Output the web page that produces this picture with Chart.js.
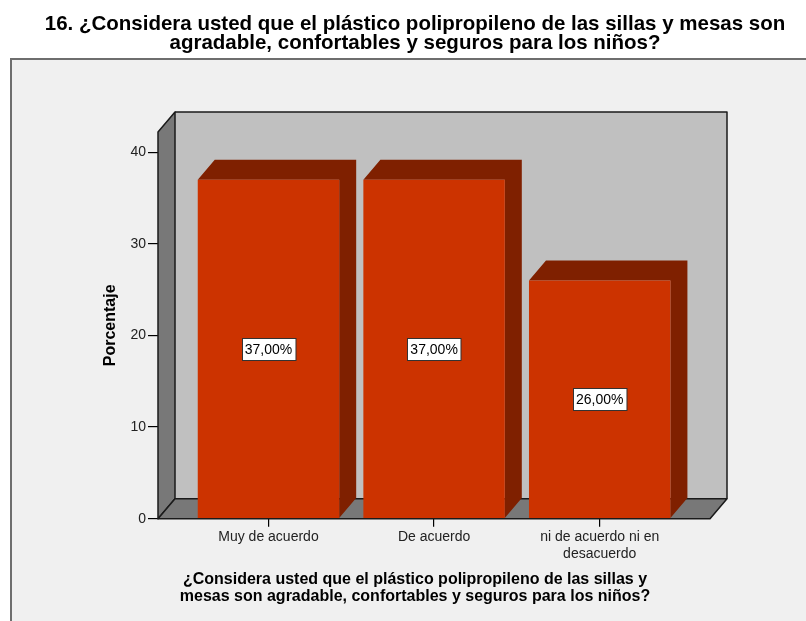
<!DOCTYPE html>
<html>
<head>
<meta charset="utf-8">
<script src="https://cdn.jsdelivr.net/npm/chart.js@4"></script>
<style>
  html, body { margin: 0; padding: 0; background: #ffffff; }
  #chart { display: block; }
</style>
</head>
<body>
<canvas id="chart" width="806" height="621"></canvas>
<script>
const categories = ["Muy de acuerdo", "De acuerdo", "ni de acuerdo ni en desacuerdo"];
const tickLabels = [["Muy de acuerdo"], ["De acuerdo"], ["ni de acuerdo ni en", "desacuerdo"]];
const percents = [37, 37, 26];
const yTicks = [0, 10, 20, 30, 40];

const mainTitle = [
  "16. ¿Considera usted que el plástico polipropileno de las sillas y mesas son",
  "agradable, confortables y seguros para los niños?",
];
const axisTitle = [
  "¿Considera usted que el plástico polipropileno de las sillas y",
  "mesas son agradable, confortables y seguros para los niños?",
];

// depth of the fake 3d box
const DX = 17;
const DY = 20;

const FONT = "Arial, 'Liberation Sans', sans-serif";

const box3d = {
  id: "box3d",
  beforeDraw(chart) {
    const ctx = chart.ctx;
    ctx.save();
    ctx.fillStyle = "#ffffff";
    ctx.fillRect(0, 0, chart.width, chart.height);
    // grey frame around the plot
    ctx.fillStyle = "#f0f0f0";
    ctx.fillRect(10, 58, chart.width, chart.height);
    ctx.strokeStyle = "#6e6e6e";
    ctx.lineWidth = 2;
    ctx.beginPath();
    ctx.moveTo(11, chart.height + 2);
    ctx.lineTo(11, 59);
    ctx.lineTo(chart.width + 2, 59);
    ctx.stroke();

    ctx.fillStyle = "#000000";
    ctx.textAlign = "center";
    ctx.textBaseline = "alphabetic";
    ctx.font = "bold 20.5px " + FONT;
    ctx.fillText(mainTitle[0], 415, 30);
    ctx.fillText(mainTitle[1], 415, 49);
    ctx.font = "bold 16px " + FONT;
    ctx.fillText(axisTitle[0], 415, 584);
    ctx.fillText(axisTitle[1], 415, 601);
    ctx.restore();
  },
  beforeDatasetsDraw(chart) {
    const ctx = chart.ctx;
    const { left: L, right: R, top: T, bottom: B } = chart.chartArea;
    ctx.save();
    ctx.lineWidth = 1.5;
    ctx.strokeStyle = "#1a1a1a";
    ctx.lineJoin = "round";

    // back wall
    ctx.fillStyle = "#c0c0c0";
    ctx.fillRect(L + DX, T - DY, R - L, B - T);
    ctx.beginPath();
    ctx.moveTo(L + DX, T - DY);
    ctx.lineTo(R + DX, T - DY);
    ctx.lineTo(R + DX, B - DY);
    ctx.stroke();

    // left wall
    ctx.fillStyle = "#787878";
    ctx.beginPath();
    ctx.moveTo(L, B);
    ctx.lineTo(L, T);
    ctx.lineTo(L + DX, T - DY);
    ctx.lineTo(L + DX, B - DY);
    ctx.closePath();
    ctx.fill();
    ctx.stroke();

    // floor
    ctx.beginPath();
    ctx.moveTo(L, B);
    ctx.lineTo(L + DX, B - DY);
    ctx.lineTo(R + DX, B - DY);
    ctx.lineTo(R, B);
    ctx.closePath();
    ctx.fill();
    ctx.stroke();

    // top and side faces of the bars
    ctx.fillStyle = "#7f2000";
    chart.getDatasetMeta(0).data.forEach((bar) => {
      const { x, y, base, width } = bar.getProps(["x", "y", "base", "width"], true);
      const x0 = x - width / 2;
      const x1 = x + width / 2;
      ctx.beginPath();
      ctx.moveTo(x0, y);
      ctx.lineTo(x0 + DX, y - DY);
      ctx.lineTo(x1 + DX, y - DY);
      ctx.lineTo(x1 + DX, base - DY);
      ctx.lineTo(x1, base);
      ctx.lineTo(x1, y);
      ctx.closePath();
      ctx.fill();
    });
    ctx.restore();
  },
  afterDatasetsDraw(chart) {
    const ctx = chart.ctx;
    ctx.save();
    ctx.font = "14px " + FONT;
    ctx.textAlign = "center";
    ctx.textBaseline = "middle";
    chart.getDatasetMeta(0).data.forEach((bar, i) => {
      const { x, y, base } = bar.getProps(["x", "y", "base"], true);
      const text = percents[i].toFixed(2).replace(".", ",") + "%";
      const w = ctx.measureText(text).width + 6;
      const h = 22;
      const cy = (y + base) / 2;
      const bx = Math.round(x - w / 2) + 0.5;
      const by = Math.round(cy - h / 2) + 0.5;
      ctx.fillStyle = "#ffffff";
      ctx.fillRect(bx, by, w, h);
      ctx.strokeStyle = "#333333";
      ctx.lineWidth = 1;
      ctx.strokeRect(bx, by, w, h);
      ctx.fillStyle = "#000000";
      ctx.fillText(text, x, cy + 1);
    });
    ctx.restore();
  },
};

const points = percents.map((v, i) => ({ x: i, y: v }));

const config = {
  type: "bar",
  data: {
    datasets: [
      {
        data: points,
        backgroundColor: "#cc3300",
        borderWidth: 0,
        barPercentage: 0.854,
        categoryPercentage: 1,
      },
    ],
  },
  options: {
    responsive: false,
    animation: false,
    layout: { padding: { left: 10, right: 96, top: 132, bottom: 0 } },
    plugins: {
      legend: { display: false },
      tooltip: { enabled: false },
      title: { display: false },
    },
    scales: {
      x: {
        type: "linear",
        offset: false,
        min: -0.667,
        max: 2.666,
        afterBuildTicks: (scale) => {
          scale.ticks = categories.map((c, i) => ({ value: i }));
        },
        afterFit: (scale) => {
          scale.height = 102.3;
        },
        ticks: {
          autoSkip: false,
          maxRotation: 0,
          padding: 2,
          color: "#222222",
          font: { family: FONT, size: 14 },
          callback: (v) => tickLabels[v],
        },
        grid: {
          offset: false,
          drawOnChartArea: false,
          drawTicks: true,
          tickLength: 8,
          color: "#000000",
          lineWidth: 1.2,
        },
        border: { display: false },
      },
      y: {
        min: 0,
        max: 42.2,
        afterBuildTicks: (scale) => {
          scale.ticks = yTicks.map((v) => ({ value: v }));
        },
        afterFit: (scale) => {
          scale.width = 148;
        },
        ticks: {
          padding: 2,
          color: "#222222",
          font: { family: FONT, size: 14 },
        },
        grid: {
          drawOnChartArea: false,
          drawTicks: true,
          tickLength: 10,
          color: "#000000",
          lineWidth: 1.2,
        },
        border: { display: false },
        title: {
          display: true,
          text: "Porcentaje",
          color: "#000000",
          font: { family: FONT, size: 16, weight: "bold" },
          padding: { top: 91, bottom: 0 },
        },
      },
    },
  },
  plugins: [box3d],
};

const myChart = new Chart(document.getElementById("chart"), config);
</script>
</body>
</html>
